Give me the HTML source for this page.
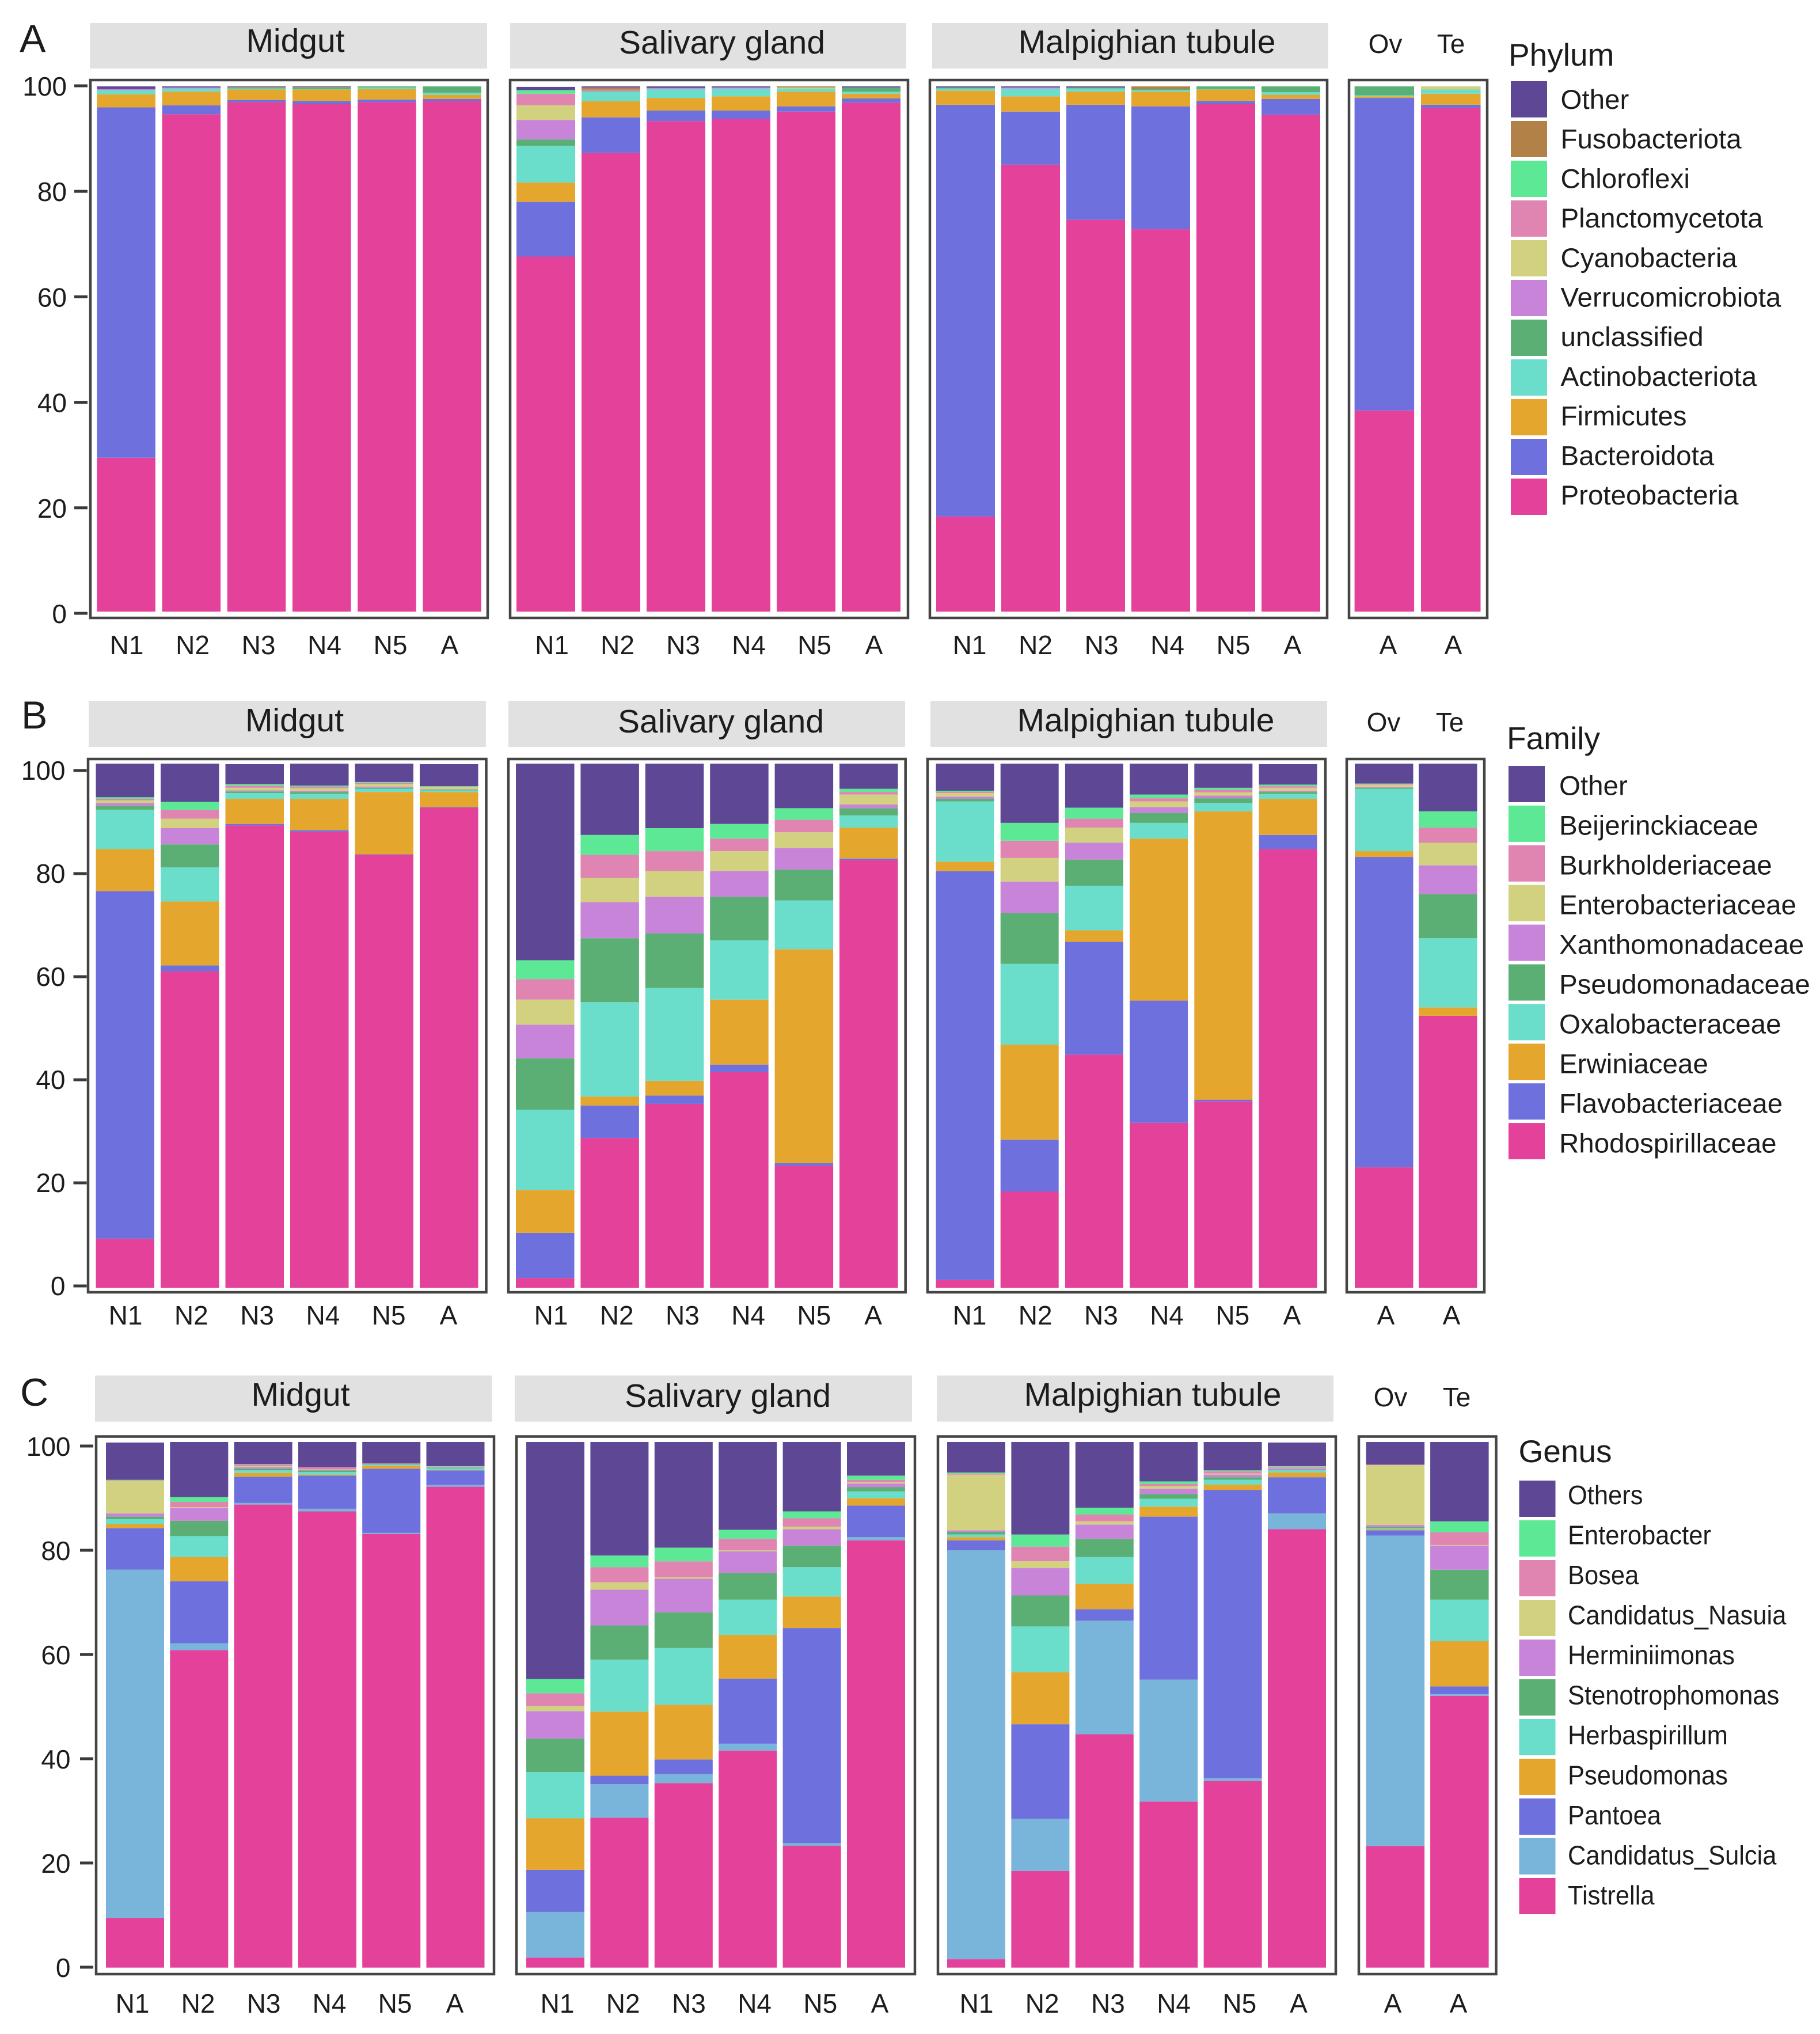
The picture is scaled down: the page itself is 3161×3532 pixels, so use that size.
<!DOCTYPE html>
<html lang="en">
<head>
<meta charset="utf-8">
<title>Stacked relative abundance by tissue and stage</title>
<style>
html,body{margin:0;padding:0;background:#fff;}
svg{display:block;font-family:"Liberation Sans",Arial,sans-serif;fill:#1c1c1c;}
</style>
</head>
<body>
<svg id="chart" xmlns="http://www.w3.org/2000/svg" width="3161" height="3532" viewBox="0 0 3161 3532"></svg>
<script>
/* ---------- categories ---------- */
const stageLabels = ["N1","N2","N3","N4","N5","A"];
const reproLabels = ["A","A"];
const reproStrips = ["Ov","Te"];
const tissueTitles = ["Midgut","Salivary gland","Malpighian tubule"];
const yTicks = [0,20,40,60,80,100];

/* legend order = top to bottom; stacks below run bottom to top (reverse of legend) */
const phylumNames = ["Other","Fusobacteriota","Chloroflexi","Planctomycetota","Cyanobacteria","Verrucomicrobiota","unclassified","Actinobacteriota","Firmicutes","Bacteroidota","Proteobacteria"];
const familyNames = ["Other","Beijerinckiaceae","Burkholderiaceae","Enterobacteriaceae","Xanthomonadaceae","Pseudomonadaceae","Oxalobacteraceae","Erwiniaceae","Flavobacteriaceae","Rhodospirillaceae"];
const genusNames = ["Others","Enterobacter","Bosea","Candidatus_Nasuia","Herminiimonas","Stenotrophomonas","Herbaspirillum","Pseudomonas","Pantoea","Candidatus_Sulcia","Tistrella"];

const phylumColors = ["#5E4795","#B18147","#5CE895","#E084B2","#D1D180","#C884D8","#5BAF75","#6ADDCB","#E5A62E","#6E71DD","#E4419A"];
const familyColors = ["#5E4795","#5CE895","#E084B2","#D1D180","#C884D8","#5BAF75","#6ADDCB","#E5A62E","#6E71DD","#E4419A"];
const genusColors = ["#5E4795","#5CE895","#E084B2","#D1D180","#C884D8","#5BAF75","#6ADDCB","#E5A62E","#6E71DD","#79B4DB","#E4419A"];

/* ---------- panel A values: Proteo, Bacter, Firmi, Actino, unclass, Verruco, Cyano, Plancto, Chloro, Fuso, Other ---------- */
const phylumMidgut = [
 [29.3,66.7,2.5,.8,0,.2,0,0,0,0,.5],
 [94.7,1.7,2.6,.6,0,.2,0,0,0,0,.2],
 [97,.4,2,.2,.2,0,0,0,0,.1,.1],
 [96.6,.6,2.2,.1,.3,0,0,0,0,.1,.1],
 [97,.5,2,.3,.2,0,0,0,0,0,0],
 [97.2,.4,.8,.4,1.2,0,0,0,0,0,0]];
const phylumSalivary = [
 [67.6,10.4,3.7,7,1.2,3.7,2.8,2.2,.7,0,.6],
 [87.3,6.8,3.1,1.8,.1,0,0,.3,0,.4,.2],
 [93.4,2,2.4,1.7,0,.2,0,0,0,0,.3],
 [93.8,1.6,2.7,1.5,0,.2,0,0,0,0,.2],
 [95.2,1,2.8,.6,0,0,.2,0,0,.2,0],
 [96.9,.8,.9,.4,.8,0,0,0,0,0,.2]];
const phylumMalpighian = [
 [18.1,78.4,2.7,.4,.2,0,0,0,0,0,.2],
 [85.1,10.1,2.9,1.5,0,.2,0,0,0,0,.2],
 [74.6,21.9,2.5,.6,.2,0,0,0,0,0,.2],
 [72.8,23.4,2.8,.3,.2,0,0,0,0,.5,0],
 [96.6,.6,2.2,.1,.5,0,0,0,0,0,0],
 [94.6,3,.8,.5,1.1,0,0,0,0,0,0]];
const phylumRepro = [
 [38.3,59.5,.3,.2,1.7,0,0,0,0,0,0],
 [95.9,.6,2.1,.8,0,0,.6,0,0,0,0]];

/* ---------- panel B values: Rhodo, Flavo, Erwin, Oxalo, Pseudo, Xantho, Entero, Burk, Beijer, Other ---------- */
const familyMidgut = [
 [9.4,66.3,8,7.5,.8,.5,.5,.3,.3,6.4],
 [60.4,1.1,12.2,6.5,4.4,3.1,1.8,1.7,1.5,7.3],
 [88.2,.3,4.8,1.1,.3,.2,.5,.4,.3,3.8],
 [87,.3,6,.9,.4,.2,.5,.3,.2,4.2],
 [82.6,.1,11.9,.6,.2,.2,.5,.2,.2,3.5],
 [91.6,.1,2.9,.3,.1,.1,.4,.1,.1,4.2]];
const familySalivary = [
 [1.9,8.6,8.2,15.3,9.8,6.4,4.8,3.9,3.6,37.5],
 [28.6,6.2,1.7,18,12.2,6.9,4.6,4.4,3.8,13.6],
 [35.1,1.6,2.8,17.7,10.4,7,4.9,3.8,4.4,12.3],
 [41.2,1.4,12.4,11.3,8.3,4.9,3.8,2.4,2.8,11.5],
 [23.3,.5,40.8,9.3,5.9,4.1,3,2.4,2.2,8.5],
 [81.6,.3,5.9,2.3,1.4,.7,1.9,.5,.6,4.8]];
const familyMalpighian = [
 [1.5,78,1.8,11.5,.5,.4,.7,.2,.2,5.2],
 [18.4,9.9,18.1,15.4,9.7,6,4.5,3.3,3.4,11.3],
 [44.5,21.5,2.2,8.5,5,3.2,2.9,1.7,2.1,8.4],
 [31.5,23.3,30.9,3,1.9,1.1,1.1,.6,.7,5.9],
 [35.6,.3,55,1.6,.9,.5,.6,.5,.4,4.6],
 [83.7,2.7,6.9,.9,.4,.2,.6,.3,.3,3.9]];
const familyRepro = [
 [23,59.2,1.1,11.9,.2,.1,.5,.1,.1,3.8],
 [51.9,0,1.6,13.2,8.4,5.5,4.3,2.9,3.1,9.1]];

/* ---------- panel C values: Tistrella, Sulcia, Pantoea, Pseudomonas, Herba, Steno, Hermin, Nasuia, Bosea, Entero, Others ---------- */
const genusMidgut = [
 [9.4,66.3,7.9,.8,.9,.5,.6,6.2,.1,.1,7.1],
 [60.4,1.3,11.8,4.6,4,2.9,2.4,.2,1,.9,10.5],
 [88.1,.3,5,.7,.5,.3,.3,.2,.3,.1,4.2],
 [86.8,.5,6.3,.2,.5,.3,.1,.1,.4,0,4.8],
 [82.5,.2,12.2,.5,.2,.1,.1,.1,0,0,4.1],
 [91.5,.3,2.8,.1,.3,.1,.1,0,.1,.1,4.6]];
const genusSalivary = [
 [1.9,8.7,8,9.8,8.8,6.4,5.2,1,2.4,2.7,45.1],
 [28.5,6.4,1.6,12.2,9.9,6.5,6.8,1.4,2.9,2.2,21.6],
 [35.1,1.7,2.8,10.4,10.8,6.8,6.4,.3,3,2.6,20.1],
 [41.3,1.3,12.4,8.3,6.7,5.1,4.1,.2,2.2,1.7,16.7],
 [23.2,.5,40.9,6,5.6,4.1,3.1,.5,1.6,1.3,13.2],
 [81.3,.6,6,1.4,1.3,.8,.7,.3,.4,.8,6.4]];
const genusMalpighian = [
 [1.6,77.8,1.9,.6,.5,.5,.3,10.6,.2,.2,5.8],
 [18.4,9.9,18,9.9,8.7,5.9,5.2,1.3,2.8,2.3,17.6],
 [44.4,21.6,2.2,4.8,5.1,3.5,2.7,.6,1.3,1.3,12.5],
 [31.6,23.2,31,1.9,1.5,.9,1,.5,.4,.5,7.5],
 [35.5,.5,54.9,1,.9,.5,.5,.2,.4,.2,5.4],
 [83.4,3,6.9,.9,.4,.1,.3,.1,.2,.1,4.5]];
const genusRepro = [
 [23.1,59.1,1,.2,.2,.2,.4,11.4,.1,0,4.3],
 [51.7,.3,1.5,8.6,7.9,5.7,4.6,.1,2.4,2.1,15.1]];

/* ---------- layout (no data here) ---------- */
const rowA = {
 letter:"A", letterX:34, letterY:90,
 barBottom:1062, barTop:150, tick0:1065, tickStep:9.16, tickRight:152, tickLabelRight:116, tickLabelDy:17,
 stripY:[40,119], frameY:[139,1073], xLabelY:1136,
 title:"Phylum", titleX:2620, titleY:114, swatchX:2624, swatchY:141, swatchStep:69, swatchSize:63,
 labelX:2710.5, labelY:189, labelStep:68.7, squeeze:1, labelFont:47.5,
 names:phylumNames, colors:phylumColors, values:[phylumMidgut,phylumSalivary,phylumMalpighian,phylumRepro],
 panels:[
  {strip:[156,846],frame:[157,847],bar:168.4,pitch:113.2,w:101.5,lab:220,labStep:114.5,labA:781,titleX:513,titleY:90},
  {strip:[886,1574],frame:[886,1577],bar:897,pitch:113,w:102,lab:958.5,labStep:114,labA:1518,titleX:1254,titleY:93},
  {strip:[1619,2307],frame:[1615,2305],bar:1626,pitch:113,w:102,lab:1684,labStep:114.5,labA:2245,titleX:1992,titleY:92},
  {frame:[2343,2583],bar:2352.6,pitch:115.4,w:103.5,labs:[2411,2524],stripXs:[2406,2520],titleY:92}
 ]};
const rowB = {
 letter:"B", letterX:37, letterY:1265,
 barBottom:2236.5, barTop:1326, tick0:2233, tickStep:8.95, tickRight:150.5, tickLabelRight:113.5, tickLabelDy:16,
 stripY:[1217,1297], frameY:[1318,2244], xLabelY:2300,
 title:"Family", titleX:2617, titleY:1301, swatchX:2620, swatchY:1330, swatchStep:68.9, swatchSize:63,
 labelX:2708, labelY:1380.5, labelStep:69, squeeze:1, labelFont:47.5,
 names:familyNames, colors:familyColors, values:[familyMidgut,familySalivary,familyMalpighian,familyRepro],
 panels:[
  {strip:[154,844],frame:[153,844.5],bar:166.5,pitch:112.5,w:101.5,lab:218,labStep:114.3,labA:779,titleX:511.5,titleY:1270},
  {strip:[883,1572],frame:[883,1572.7],bar:896,pitch:112.4,w:101.5,lab:957,labStep:114.2,labA:1516.6,titleX:1252,titleY:1272},
  {strip:[1616,2305],frame:[1611,2302],bar:1625.5,pitch:112.2,w:101,lab:1684,labStep:114.2,labA:2244,titleX:1990,titleY:1270},
  {frame:[2339,2578],bar:2353,pitch:111,w:101.5,labs:[2407,2521],stripXs:[2403,2518],titleY:1270}
 ]};
const rowC = {
 letter:"C", letterX:35, letterY:2441,
 barBottom:3416.7, barTop:2504, tick0:3416, tickStep:9.05, tickRight:162, tickLabelRight:122.5, tickLabelDy:17,
 stripY:[2388.5,2468.6], frameY:[2494.5,3428], xLabelY:3495,
 title:"Genus", titleX:2637.5, titleY:2539, swatchX:2638.5, swatchY:2571, swatchStep:69, swatchSize:63,
 labelX:2723, labelY:2612, labelStep:69.5, squeeze:.945, labelFont:46,
 names:genusNames, colors:genusColors, values:[genusMidgut,genusSalivary,genusMalpighian,genusRepro],
 panels:[
  {strip:[165,854.6],frame:[167,858],bar:184,pitch:111.3,w:101,lab:230,labStep:114,labA:790,titleX:522,titleY:2441},
  {strip:[894,1584],frame:[897,1589],bar:914,pitch:111.4,w:101,lab:968,labStep:114.2,labA:1528,titleX:1264,titleY:2443},
  {strip:[1627,2316],frame:[1629,2320],bar:1645,pitch:111.4,w:101,lab:1696,labStep:114.2,labA:2255.5,titleX:2002,titleY:2441},
  {frame:[2360,2598.5],bar:2372.6,pitch:111.5,w:101.5,labs:[2419,2533],stripXs:[2415,2530],titleY:2442}
 ]};

/* ---------- drawing ---------- */
const svg = document.getElementById('chart');
const NS = 'http://www.w3.org/2000/svg';

function make(tag, parent, attrs, text){
  const el = document.createElementNS(NS, tag);
  for (const k in attrs) el.setAttribute(k, attrs[k]);
  if (text !== undefined) el.textContent = text;
  parent.appendChild(el);
  return el;
}
function slug(s){ return String(s).toLowerCase().replace(/[^a-z0-9]+/g,'-'); }

function drawRow(row){
  const rowName = row.title.toLowerCase();
  const g = make('g', svg, {});
  
  

  const yScale = v => row.barBottom - (row.barBottom - row.barTop) * v / 100;
  const tickScale = v => row.tick0 - row.tickStep * v;

  const letter = make('text', g, {x:row.letterX, y:row.letterY, 'font-size':68}, row.letter);
  
  

  yTicks.forEach(t => {
    const y = tickScale(t);
    const tick = make('rect', g, {x:row.tickRight-23, y:y-2.5, width:23, height:5, fill:'#3a3a3a'});
    
    
    const lab = make('text', g, {x:row.tickLabelRight, y:y+row.tickLabelDy, 'font-size':46, 'text-anchor':'end'}, t);
    
    
  });

  row.panels.forEach((p, pi) => {
    const isRepro = pi === 3;
    const panelName = rowName + '-' + (isRepro ? 'reproductive' : slug(tissueTitles[pi]));

    if (!isRepro){
      const strip = make('rect', g, {x:p.strip[0], y:row.stripY[0], width:p.strip[1]-p.strip[0], height:row.stripY[1]-row.stripY[0], fill:'#E1E1E1'});
      
      
      const title = make('text', g, {x:p.titleX, y:p.titleY, 'font-size':57, 'text-anchor':'middle'}, tissueTitles[pi]);
      
      
    } else {
      reproStrips.forEach((s, si) => {
        const title = make('text', g, {x:p.stripXs[si], y:p.titleY, 'font-size':46, 'text-anchor':'middle'}, s);
        
        
      });
    }

    const stacks = row.values[pi];
    const nSeries = row.names.length;
    stacks.forEach((stack, si) => {
      const x = p.bar + si * p.pitch;
      let cum = 0;
      stack.forEach((val, k) => {
        if (val <= 0) return;
        const seriesName = row.names[nSeries - 1 - k];
        const y1 = yScale(cum);
        cum += val;
        const y2 = yScale(Math.min(cum, 100));
        const seg = make('rect', g, {x:x, y:y2, width:p.w, height:Math.max(y1-y2,0), fill:row.colors[nSeries - 1 - k]});
        
        
      });
      const labels = isRepro ? reproLabels : stageLabels;
      const lx = isRepro ? p.labs[si] : (si === 5 ? p.labA : p.lab + si * p.labStep);
      const lab = make('text', g, {x:lx, y:row.xLabelY, 'font-size':46, 'text-anchor':'middle'}, labels[si]);
      
      
    });

    const frame = make('rect', g, {x:p.frame[0], y:row.frameY[0], width:p.frame[1]-p.frame[0], height:row.frameY[1]-row.frameY[0], fill:'none', stroke:'#444444', 'stroke-width':4.5});
    
    
  });

  const title = make('text', g, {x:row.titleX, y:row.titleY, 'font-size':55}, row.title);
  
  

  row.names.forEach((name, i) => {
    const sw = make('rect', g, {x:row.swatchX, y:row.swatchY + i*row.swatchStep, width:row.swatchSize, height:row.swatchSize, fill:row.colors[i]});
    
    
    const ly = row.labelY + i*row.labelStep;
    const lab = make('text', g, {transform:'translate(' + row.labelX + ' ' + ly + ') scale(' + row.squeeze + ' 1)', 'font-size':row.labelFont}, name);
    
    
  });
}

drawRow(rowA);
drawRow(rowB);
drawRow(rowC);
</script>
</body>
</html>
